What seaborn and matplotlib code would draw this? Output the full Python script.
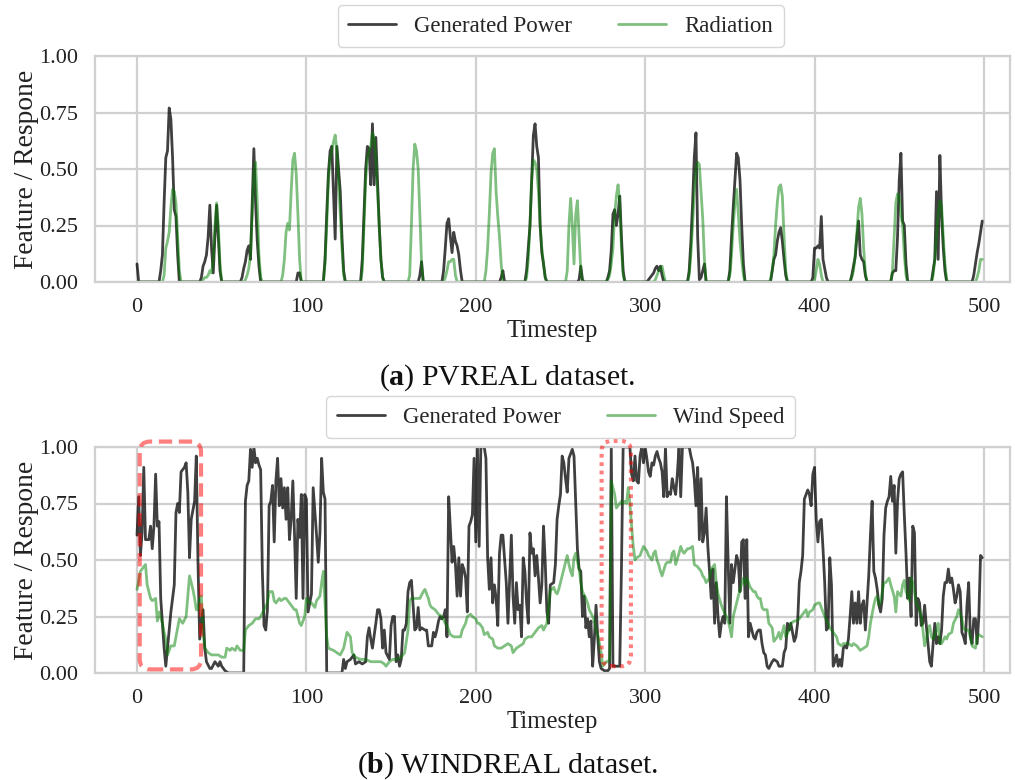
import numpy as np
import pandas as pd
import matplotlib
matplotlib.use("Agg")
import matplotlib.pyplot as plt
from matplotlib.patches import FancyBboxPatch
import seaborn as sns

# ---------------- data ----------------
N_STEPS = 500

# PVREAL: non-zero daily segments (start timestep, hourly values); zero elsewhere
pv_power_segments = [
    (0, [0.08, 0.0]),
    (13, [0.0, 0.05, 0.12, 0.35, 0.55, 0.58, 0.77, 0.72, 0.55, 0.32, 0.29, 0.12, 0.0]),
    (37, [0.0, 0.02, 0.07, 0.09, 0.12, 0.2, 0.34, 0.15, 0.04, 0.2, 0.34, 0.2, 0.05, 0.0]),
    (61, [0.0, 0.02, 0.06, 0.09, 0.14, 0.16, 0.1, 0.35, 0.59, 0.35, 0.18, 0.07, 0.0]),
    (94, [0.0, 0.04, 0.04, 0.0]),
    (110, [0.0, 0.1, 0.3, 0.48, 0.58, 0.6, 0.4, 0.19, 0.6, 0.5, 0.4, 0.2, 0.05, 0.0]),
    (132, [0.0, 0.1, 0.3, 0.5, 0.6, 0.59, 0.43, 0.7, 0.43, 0.64, 0.45, 0.25, 0.1, 0.02, 0.0]),
    (166, [0.0, 0.03, 0.09, 0.0]),
    (180, [0.0, 0.05, 0.15, 0.26, 0.28, 0.2, 0.13, 0.22, 0.18, 0.16, 0.12, 0.05, 0.0]),
    (214, [0.0, 0.02, 0.05, 0.0]),
    (229, [0.0, 0.05, 0.15, 0.25, 0.45, 0.65, 0.7, 0.6, 0.55, 0.25, 0.13, 0.08, 0.02, 0.0]),
    (260, [0.0, 0.01, 0.07, 0.01, 0.0]),
    (277, [0.0, 0.02, 0.05, 0.14, 0.3, 0.32, 0.25, 0.3, 0.38, 0.2, 0.05, 0.0]),
    (301, [0.0, 0.01, 0.02, 0.03, 0.04, 0.06, 0.07, 0.05, 0.07, 0.03, 0.0]),
    (325, [0.0, 0.05, 0.18, 0.35, 0.55, 0.66, 0.2, 0.01, 0.02, 0.05, 0.08, 0.0]),
    (349, [0.0, 0.05, 0.2, 0.33, 0.45, 0.57, 0.55, 0.45, 0.25, 0.08, 0.0]),
    (374, [0.0, 0.05, 0.1, 0.12, 0.18, 0.22, 0.24, 0.18, 0.1, 0.03, 0.0]),
    (398, [0.0, 0.02, 0.15, 0.15, 0.16, 0.15, 0.29, 0.1, 0.06, 0.02, 0.0]),
    (421, [0.0, 0.03, 0.07, 0.11, 0.2, 0.27, 0.12, 0.1, 0.09, 0.03, 0.0]),
    (445, [0.0, 0.04, 0.05, 0.05, 0.2, 0.45, 0.57, 0.27, 0.25, 0.08, 0.0]),
    (469, [0.0, 0.05, 0.1, 0.4, 0.1, 0.56, 0.3, 0.15, 0.05, 0.0]),
    (493, [0.0, 0.03, 0.08, 0.13, 0.17, 0.22, 0.27]),
]
pv_radiation_segments = [
    (15, [0.0, 0.03, 0.15, 0.18, 0.22, 0.33, 0.41, 0.40, 0.35, 0.2, 0.05, 0.0]),
    (38, [0.0, 0.01, 0.02, 0.02, 0.03, 0.05, 0.04, 0.1, 0.25, 0.35, 0.25, 0.08, 0.0]),
    (63, [0.0, 0.01, 0.03, 0.06, 0.12, 0.3, 0.48, 0.53, 0.35, 0.12, 0.02, 0.0]),
    (85, [0.0, 0.03, 0.1, 0.22, 0.26, 0.23, 0.4, 0.54, 0.57, 0.48, 0.3, 0.1, 0.0]),
    (110, [0.0, 0.08, 0.25, 0.45, 0.55, 0.58, 0.62, 0.65, 0.58, 0.45, 0.3, 0.15, 0.03, 0.0]),
    (132, [0.0, 0.05, 0.25, 0.45, 0.55, 0.58, 0.6, 0.66, 0.64, 0.55, 0.4, 0.25, 0.1, 0.02, 0.0]),
    (160, [0.0, 0.03, 0.25, 0.5, 0.61, 0.58, 0.5, 0.3, 0.08, 0.0]),
    (181, [0.0, 0.02, 0.05, 0.09, 0.09, 0.1, 0.1, 0.03, 0.0]),
    (205, [0.0, 0.05, 0.15, 0.3, 0.48, 0.57, 0.59, 0.4, 0.29, 0.2, 0.08, 0.0]),
    (229, [0.0, 0.02, 0.1, 0.25, 0.45, 0.54, 0.53, 0.5, 0.4, 0.25, 0.15, 0.08, 0.02, 0.0]),
    (253, [0.0, 0.05, 0.25, 0.37, 0.25, 0.08, 0.3, 0.36, 0.2, 0.05, 0.0]),
    (277, [0.0, 0.01, 0.03, 0.08, 0.15, 0.3, 0.38, 0.43, 0.35, 0.15, 0.03, 0.0]),
    (305, [0.0, 0.01, 0.03, 0.05, 0.06, 0.07, 0.03, 0.0]),
    (325, [0.0, 0.03, 0.12, 0.25, 0.4, 0.5, 0.53, 0.52, 0.4, 0.28, 0.1, 0.0]),
    (349, [0.0, 0.03, 0.12, 0.25, 0.35, 0.41, 0.3, 0.18, 0.1, 0.03, 0.0]),
    (373, [0.0, 0.01, 0.05, 0.12, 0.25, 0.35, 0.42, 0.43, 0.38, 0.2, 0.05, 0.0]),
    (399, [0.0, 0.01, 0.05, 0.1, 0.08, 0.03, 0.0]),
    (421, [0.0, 0.02, 0.05, 0.12, 0.22, 0.33, 0.37, 0.3, 0.15, 0.04, 0.0]),
    (445, [0.0, 0.05, 0.2, 0.35, 0.39, 0.38, 0.3, 0.25, 0.12, 0.03, 0.0]),
    (469, [0.0, 0.03, 0.1, 0.2, 0.3, 0.36, 0.34, 0.2, 0.08, 0.01, 0.0]),
    (495, [0.0, 0.02, 0.05, 0.1, 0.1]),
]

# WINDREAL: (timestep, value) readings
wind_power_t = [0,1,2,3,4,5,7,8,9,10,11,12,13,14,16,17,18,20,22,23,24,25,26,28,29,30,31,32,34,35,36,37,39,40,41,43,44,46,48,49,50,52,54,63,
    64,65,66,67,68,69,70,71,72,73,74,75,76,77,78,79,80,81,82,83,84,85,86,87,88,89,90,91,92,93,94,95,96,97,98,99,100,101,102,103,104,106,107,108,109,110,111,112,121,
    122,123,124,126,128,129,131,133,135,136,137,138,139,141,142,143,144,145,146,147,149,150,151,152,153,154,155,156,157,158,159,160,161,162,164,165,166,167,168,170,171,172,174,175,176,177,178,179,180,181,182,183,
    184,185,186,187,188,189,190,191,192,193,194,195,196,197,198,199,200,201,202,203,205,206,207,208,209,210,211,212,213,214,215,216,218,219,220,221,222,223,224,225,226,227,228,229,230,231,232,233,234,235,236,237,238,239,240,241,242,243,244,246,247,248,249,
    250,251,252,253,254,255,256,257,258,259,260,261,262,263,264,265,266,267,268,269,270,271,272,273,274,276,278,279,280,281,283,285,286,287,288,290,291,292,293,294,295,296,297,298,299,
    300,301,302,303,304,305,306,307,308,309,310,311,312,313,314,315,316,317,318,319,320,321,322,326,327,328,329,330,331,332,333,334,335,336,337,338,339,340,341,342,343,344,345,346,347,348,349,
    350,351,352,353,354,355,356,357,358,359,360,361,362,363,364,365,366,367,368,369,370,371,372,373,375,376,378,379,381,382,383,384,385,386,387,388,389,390,391,392,393,394,395,396,397,398,399,
    400,401,402,403,404,405,406,407,408,409,410,411,412,413,414,415,416,417,418,419,420,421,422,423,424,425,426,427,428,429,430,431,432,433,434,435,436,437,438,439,440,441,442,443,444,445,446,447,448,449,
    450,451,452,453,454,455,456,457,458,459,460,461,462,463,464,465,466,467,468,469,470,471,472,473,474,475,476,477,478,479,480,481,482,483,484,485,486,487,488,489,490,491,492,493,494,495,496,497,498,499]
wind_power_v = [0.61,0.78,0.52,0.62,0.91,0.59,0.59,0.65,0.55,0.65,0.88,0.65,0.67,0.33,0.11,0.03,0.11,0.27,0.39,0.71,0.75,0.71,0.89,0.91,0.93,0.80,0.51,0.68,0.76,0.96,0.49,0.15,0.28,0.11,0.05,0.02,0.02,0.05,0.03,0.05,0.03,0.01,0.0,0.0,
    0.76,0.83,0.85,0.99,0.91,1.0,0.93,0.95,0.92,0.90,0.45,0.21,0.19,0.28,0.74,0.76,0.83,0.58,0.85,0.95,0.74,0.86,0.73,0.82,0.68,0.82,0.59,0.68,0.85,0.61,0.33,0.68,0.60,0.79,0.33,0.79,0.77,0.27,0.31,0.35,0.82,0.61,0.49,0.62,0.95,0.80,0.77,0.0,0.0,
    0.06,0.02,0.05,0.06,0.08,0.04,0.05,0.04,0.05,0.16,0.20,0.15,0.11,0.22,0.28,0.28,0.24,0.11,0.19,0.09,0.06,0.21,0.25,0.25,0.05,0.08,0.03,0.06,0.19,0.19,0.22,0.36,0.40,0.41,0.19,0.20,0.29,0.19,0.20,0.19,0.19,0.12,0.12,0.18,0.16,0.19,0.23,0.25,0.24,0.25,0.28,0.16,
    0.78,0.64,0.49,0.56,0.48,0.34,0.51,0.34,0.48,0.46,0.42,0.27,0.65,0.67,0.70,0.95,0.58,1.0,0.56,1.0,1.0,0.95,0.51,0.37,0.51,0.31,0.39,0.33,0.21,0.53,0.61,0.61,0.40,0.22,0.42,0.61,0.34,0.22,0.40,0.28,0.30,0.16,0.51,0.45,0.31,0.22,0.62,0.53,0.55,0.43,0.52,0.42,0.31,0.39,0.65,0.49,0.27,0.22,0.39,0.40,0.48,0.68,0.74,
    0.79,0.96,0.93,0.86,0.80,0.95,0.97,0.99,0.96,0.76,0.55,0.46,0.45,0.25,0.34,0.20,0.24,0.16,0.23,0.03,0.15,0.30,0.16,0.05,0.02,0.01,0.01,0.02,1.0,0.03,0.03,0.03,0.46,1.0,1.0,1.0,1.0,0.88,0.85,0.96,0.85,0.84,0.96,1.0,0.93,
    1.0,0.95,0.89,0.87,0.93,0.92,0.96,0.98,0.95,0.93,0.89,0.78,1.0,0.78,0.80,0.79,0.86,0.82,0.79,0.88,1.0,0.78,1.0,1.0,0.96,0.93,0.86,0.74,0.91,0.59,0.86,0.58,0.62,0.73,0.56,0.45,0.33,0.46,0.22,0.40,0.25,0.16,0.22,0.25,0.22,0.78,0.49,
    0.22,0.48,0.40,0.46,0.52,0.49,0.36,0.58,0.59,0.33,0.59,0.16,0.22,0.19,0.16,0.15,0.18,0.19,0.19,0.13,0.09,0.08,0.03,0.02,0.05,0.06,0.05,0.03,0.03,0.09,0.11,0.22,0.19,0.22,0.18,0.14,0.16,0.22,0.40,0.45,0.52,0.77,0.79,0.81,0.79,0.74,0.88,
    0.91,0.68,0.58,0.67,0.68,0.55,0.40,0.19,0.20,0.51,0.39,0.03,0.05,0.08,0.03,0.06,0.03,0.11,0.12,0.11,0.15,0.25,0.36,0.22,0.31,0.22,0.36,0.22,0.30,0.32,0.19,0.31,0.43,0.61,0.76,0.45,0.42,0.37,0.30,0.27,0.33,0.61,0.73,0.76,0.78,0.87,0.76,0.83,0.53,0.76,
    0.86,0.88,0.89,0.70,0.53,0.33,0.42,0.25,0.65,0.62,0.21,0.33,0.31,0.21,0.22,0.30,0.21,0.13,0.05,0.03,0.13,0.22,0.13,0.16,0.13,0.19,0.34,0.40,0.40,0.46,0.40,0.42,0.37,0.31,0.34,0.39,0.36,0.18,0.16,0.13,0.30,0.40,0.16,0.13,0.24,0.24,0.13,0.25,0.52,0.51]

wind_speed_t = [0,2,5,6,8,9,11,12,13,15,16,17,18,20,22,24,25,27,29,30,31,33,34,35,36,37,38,39,40,42,44,46,48,50,52,53,55,56,58,59,61,63,64,66,68,70,72,73,75,77,78,80,81,82,84,85,87,88,90,91,93,94,96,97,99,
    100,102,103,105,106,108,109,110,111,112,113,116,118,120,122,124,126,127,129,132,135,138,141,144,146,147,149,151,153,156,158,160,161,162,165,167,169,170,172,173,174,176,178,180,182,183,185,187,189,191,192,194,195,197,198,
    200,201,202,204,205,207,208,210,211,213,215,217,219,221,222,224,226,228,229,231,233,235,237,239,240,242,244,245,246,247,248,249,251,252,254,255,256,257,258,259,261,262,263,265,266,267,269,270,271,272,273,274,275,277,278,279,280,281,282,283,284,285,286,287,288,289,290,291,292,293,294,295,297,298,299,
    301,302,304,305,306,307,308,309,310,312,313,315,316,317,318,320,321,322,323,324,325,326,328,329,331,333,334,335,336,338,339,341,342,343,345,346,348,349,350,351,352,353,355,356,358,359,360,362,364,365,366,367,368,369,370,372,373,375,376,378,379,380,382,383,385,386,388,389,391,392,393,395,396,397,399,
    400,402,403,405,406,408,409,410,412,413,414,416,417,419,420,422,423,425,426,427,429,431,432,433,435,436,437,438,439,440,441,442,444,445,447,448,449,450,451,452,453,454,456,457,458,459,460,462,463,464,465,466,467,468,469,470,472,473,474,475,477,478,479,481,482,484,485,487,488,489,491,492,493,495,496,497,499]
wind_speed_v = [0.37,0.45,0.48,0.39,0.33,0.32,0.33,0.23,0.27,0.22,0.18,0.15,0.08,0.12,0.12,0.20,0.24,0.22,0.25,0.34,0.43,0.37,0.33,0.28,0.28,0.33,0.34,0.18,0.11,0.09,0.08,0.08,0.08,0.07,0.07,0.11,0.10,0.11,0.10,0.12,0.10,0.10,0.19,0.21,0.22,0.24,0.24,0.25,0.28,0.31,0.36,0.36,0.32,0.31,0.33,0.32,0.33,0.33,0.31,0.30,0.28,0.28,0.22,0.21,0.25,
    0.33,0.31,0.31,0.29,0.32,0.34,0.40,0.45,0.31,0.16,0.11,0.10,0.09,0.08,0.11,0.18,0.16,0.09,0.07,0.06,0.06,0.05,0.05,0.05,0.04,0.03,0.05,0.06,0.06,0.07,0.09,0.19,0.32,0.33,0.33,0.33,0.36,0.37,0.33,0.30,0.29,0.28,0.26,0.25,0.22,0.21,0.17,0.16,0.16,0.16,0.19,0.22,0.25,0.26,0.25,
    0.24,0.22,0.22,0.20,0.17,0.18,0.16,0.15,0.12,0.11,0.11,0.12,0.13,0.12,0.09,0.11,0.12,0.13,0.15,0.16,0.16,0.18,0.20,0.21,0.19,0.22,0.37,0.37,0.38,0.36,0.35,0.37,0.43,0.46,0.52,0.48,0.45,0.43,0.51,0.53,0.46,0.40,0.36,0.33,0.31,0.28,0.25,0.23,0.19,0.17,0.13,0.09,0.03,0.05,0.05,0.06,0.85,0.82,0.79,0.73,0.74,0.75,0.76,0.75,0.76,0.75,0.82,0.75,0.65,0.56,0.50,0.51,0.52,0.54,0.56,
    0.54,0.52,0.50,0.53,0.54,0.50,0.48,0.45,0.43,0.48,0.49,0.49,0.53,0.54,0.48,0.53,0.56,0.54,0.53,0.54,0.55,0.55,0.56,0.48,0.47,0.45,0.43,0.42,0.40,0.42,0.46,0.48,0.40,0.35,0.30,0.28,0.25,0.23,0.20,0.16,0.25,0.28,0.34,0.37,0.42,0.39,0.42,0.38,0.36,0.36,0.34,0.33,0.33,0.29,0.28,0.28,0.22,0.20,0.14,0.16,0.18,0.15,0.21,0.16,0.19,0.22,0.23,0.23,0.24,0.25,0.26,0.28,0.25,0.27,0.28,
    0.30,0.31,0.31,0.27,0.25,0.22,0.20,0.19,0.17,0.16,0.13,0.12,0.13,0.13,0.13,0.12,0.13,0.12,0.11,0.10,0.11,0.12,0.16,0.22,0.30,0.33,0.34,0.30,0.31,0.36,0.40,0.40,0.42,0.39,0.34,0.27,0.36,0.35,0.34,0.39,0.41,0.36,0.32,0.42,0.40,0.36,0.31,0.28,0.25,0.19,0.12,0.15,0.19,0.21,0.16,0.15,0.19,0.22,0.13,0.13,0.16,0.15,0.17,0.18,0.22,0.25,0.28,0.24,0.20,0.19,0.19,0.16,0.12,0.11,0.16,0.17,0.16]

x_ticks = [0, 100, 200, 300, 400, 500]
y_ticks = [0.00, 0.25, 0.50, 0.75, 1.00]
x_label = "Timestep"
y_label = "Feature / Respone"
captions = ["($\\mathbf{a}$) PVREAL dataset.", "($\\mathbf{b}$) WINDREAL dataset."]
legend_labels = [("Generated Power", "Radiation"), ("Generated Power", "Wind Speed")]
# highlighted windows in WINDREAL (timestep range, value range)
highlight_boxes = [((1.6, 37.8), (0.016, 1.024), "dashed"), ((274.3, 291.6), (0.03, 1.027), "dotted")]


def expand(segments):
    arr = np.zeros(N_STEPS)
    for start, vals in segments:
        arr[start:start + len(vals)] = vals
    return arr


t_all = np.arange(N_STEPS)
pv_df = pd.DataFrame({"t": t_all, "power": expand(pv_power_segments),
                      "rad": expand(pv_radiation_segments)})
wp_df = pd.DataFrame({"t": wind_power_t, "v": wind_power_v})
ws_df = pd.DataFrame({"t": wind_speed_t, "v": wind_speed_v})

# ---------------- style ----------------
sns.set_theme(style="whitegrid")
plt.rcParams["font.family"] = ["Liberation Serif", "DejaVu Serif"]
plt.rcParams["mathtext.fontset"] = "custom"
plt.rcParams["mathtext.rm"] = "Liberation Serif"
plt.rcParams["mathtext.bf"] = "Liberation Serif:bold"

W, H = 1015, 780
fig = plt.figure(figsize=(W / 100, H / 100), dpi=100)
ax1 = fig.add_axes([95 / W, 1 - 282 / H, 915 / W, 226 / H])
ax2 = fig.add_axes([95 / W, 1 - 673 / H, 915 / W, 226 / H])

DARK = "black"
GREEN = "green"

sns.lineplot(data=pv_df, x="t", y="power", ax=ax1, color=DARK, alpha=0.75, lw=2,
             label=legend_labels[0][0])
sns.lineplot(data=pv_df, x="t", y="rad", ax=ax1, color=GREEN, alpha=0.5, lw=2,
             label=legend_labels[0][1])
sns.lineplot(data=wp_df, x="t", y="v", ax=ax2, color=DARK, alpha=0.75, lw=2,
             label=legend_labels[1][0])
sns.lineplot(data=ws_df, x="t", y="v", ax=ax2, color=GREEN, alpha=0.5, lw=2,
             label=legend_labels[1][1])

for ax in (ax1, ax2):
    ax.set_xlim(-24.8, 515.4)
    ax.set_ylim(0, 1)
    ax.set_xticks(x_ticks)
    ax.set_yticks(y_ticks)
    ax.set_yticklabels([f"{v:.2f}" for v in y_ticks])
    ax.tick_params(axis="x", labelsize=16, pad=11.5, length=0, colors="#222222")
    ax.tick_params(axis="y", labelsize=16, pad=12, length=0, colors="#222222")
    ax.set_xlabel(x_label, fontsize=17.8, labelpad=2.5, color="#222222")
    ax.set_ylabel(y_label, fontsize=19.8, labelpad=0.5, color="#222222")
    ax.grid(True, color="#d0d0d0", lw=1.6)
    for s in ("left", "right", "top", "bottom"):
        ax.spines[s].set_visible(True)
        ax.spines[s].set_color("#d0d0d0")
        ax.spines[s].set_linewidth(1.6)
    leg = ax.legend(loc="lower center", bbox_to_anchor=(0.509, 1.0), ncol=2,
                    fontsize=16.5, frameon=True, handlelength=2.1, columnspacing=2.0,
                    borderaxespad=0.4, borderpad=0.45)
    leg.get_frame().set_edgecolor("#cccccc")

# highlighted windows
xpx = 915 / (515.4 + 24.8)
ypx = 226.0
aspect = (1 / ypx) / (1 / xpx)
for (x0, x1), (y0, y1), style in highlight_boxes:
    ls = (0, (3.2, 1.6)) if style == "dashed" else (0, (0.9, 1.1))
    box = FancyBboxPatch((x0, y0), x1 - x0, y1 - y0,
                         boxstyle="round,pad=0,rounding_size=6",
                         mutation_aspect=aspect, transform=ax2.transData,
                         fill=False, edgecolor="red", alpha=0.5, lw=3,
                         linestyle=ls, clip_on=False, zorder=5)
    ax2.add_patch(box)

fig.text(0.5, 1 - 378 / H, captions[0], ha="center", va="center", fontsize=21.5, color="#111111")
fig.text(0.5, 1 - 766 / H, captions[1], ha="center", va="center", fontsize=21.5, color="#111111")

fig.savefig("out.png", dpi=100)
